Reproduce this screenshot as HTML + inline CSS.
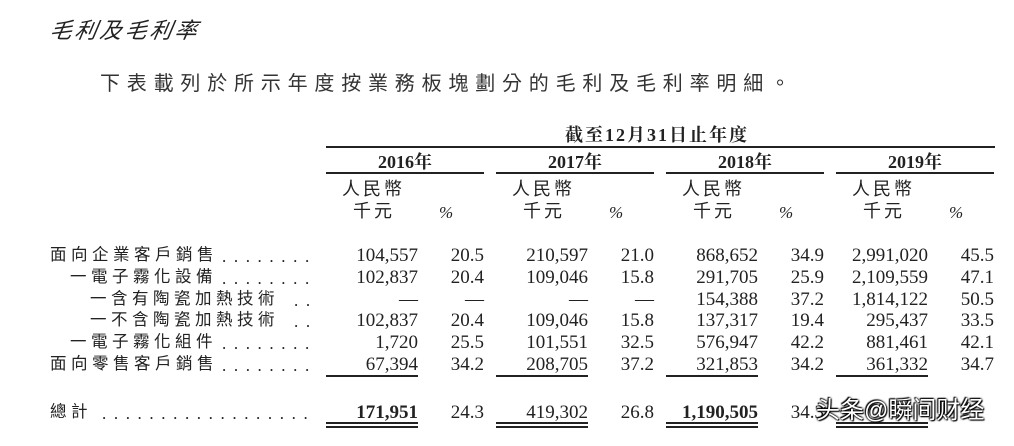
<!DOCTYPE html>
<html><head><meta charset="utf-8">
<style>
body{margin:0;width:1014px;height:446px;background:#fff;position:relative;overflow:hidden;color:#222;
font-family:"Liberation Serif","Noto Serif CJK SC",serif;}
.a{position:absolute;white-space:nowrap;line-height:1;}
.cjk{font-family:"Liberation Sans","Noto Sans CJK TC",sans-serif;}
.ln{position:absolute;background:#222;}
.num{font-size:19px;text-align:right;}
.lbl{font-size:16.5px;letter-spacing:4.5px;font-family:"Liberation Sans","Noto Sans CJK TC",sans-serif;}
.dots{font-size:17px;letter-spacing:7.6px;}
</style></head><body>
<div class="a cjk" style="left:50px;top:20px;font-size:22px;letter-spacing:3px;font-style:italic;transform:skewX(-10deg);">毛利及毛利率</div>
<div class="a cjk" style="left:100px;top:74px;font-size:20px;letter-spacing:6.8px;color:#333;">下表載列於所示年度按業務板塊劃分的毛利及毛利率明細。</div>
<div class="a" style="left:565px;top:126px;font-size:18px;font-weight:bold;letter-spacing:2px;">截至12月31日止年度</div>
<div class="ln" style="left:326px;top:146px;width:669px;height:2px;"></div>
<div id="t"></div>
<script>
const years=["2016","2017","2018","2019"];
const labels=["面向企業客戶銷售","一電子霧化設備","一含有陶瓷加熱技術","一不含陶瓷加熱技術","一電子霧化組件","面向零售客戶銷售"];
const indents=[0,1,2,2,1,0];
const amounts=[["104,557","102,837","—","102,837","1,720","67,394"],["210,597","109,046","—","109,046","101,551","208,705"],["868,652","291,705","154,388","137,317","576,947","321,853"],["2,991,020","2,109,559","1,814,122","295,437","881,461","361,332"]];
const pcts=[["20.5","20.4","—","20.4","25.5","34.2"],["21.0","15.8","—","15.8","32.5","37.2"],["34.9","25.9","37.2","19.4","42.2","34.2"],["45.5","47.1","50.5","33.5","42.1","34.7"]];
const totalAmt=["171,951","419,302","1,190,505",""];
const totalPct=["24.3","26.8","34.3",""];
const rowY=[256,278,300,321,343,365];
const root=document.body;
function mk(cls,txt,css){const d=document.createElement('div');d.className=cls;d.textContent=txt;d.style.cssText=css;root.appendChild(d);return d;}
years.forEach((y,i)=>{
  const x0=326+i*170;
  let d=mk('a',y+'年',`left:${x0}px;top:153px;width:158px;text-align:center;font-size:18px;font-weight:bold;`);
  
  
  d=mk('ln','',`left:${x0}px;top:172px;width:158px;height:2px;`);
  
  
  d=mk('a cjk','人民幣',`left:${x0+16}px;top:180px;font-size:18px;letter-spacing:3px;`);
  
  
  d=mk('a cjk','千元',`left:${x0+27}px;top:202px;font-size:18px;letter-spacing:3px;`);
  
  
  d=mk('a','%',`left:${x0+113}px;top:204px;font-size:17px;font-style:italic;`);
  
  
  const ar=x0+92, pr=x0+158;
  amounts[i].forEach((v,r)=>{
    d=mk('a num',v,`left:${ar-110}px;width:110px;top:${rowY[r]-10}px;`);
    
    
    d=mk('a num',pcts[i][r],`left:${pr-60}px;width:60px;top:${rowY[r]-10}px;`);
    
    
  });
  d=mk('ln','',`left:${x0}px;top:375px;width:92px;height:2px;`);
  
  
  d=mk('a num',totalAmt[i],`left:${ar-110}px;width:110px;top:403px;font-weight:${i==1?'normal':'bold'};`);
  
  
  d=mk('a num',totalPct[i],`left:${pr-60}px;width:60px;top:403px;`);
  
  
  d=mk('ln','',`left:${x0}px;top:422px;width:92px;height:2px;`);
  
  
  d=mk('ln','',`left:${x0}px;top:426px;width:92px;height:2px;`);
  
  
});
labels.forEach((l,r)=>{
  let d=mk('a lbl',l,`left:${50+indents[r]*20}px;top:${rowY[r]-9}px;`);
  
  
  const n=indents[r]==2?2:8;
  d=mk('a dots','.'.repeat(n),`left:${318-n*12}px;top:${rowY[r]-8}px;`);
  
  
});
let d=mk('a lbl','總計',`left:50px;top:404px;`);


d=mk('a dots','.'.repeat(18),`left:102px;top:405px;`);


</script>
<div class="a cjk" style="left:816px;top:399px;font-size:24px;color:#fff;text-shadow:0 0 2px #000,0 0 2px #000,1px 1px 1px #000,-1px -1px 1px #000;">头条@瞬间财经</div>
</body></html>
